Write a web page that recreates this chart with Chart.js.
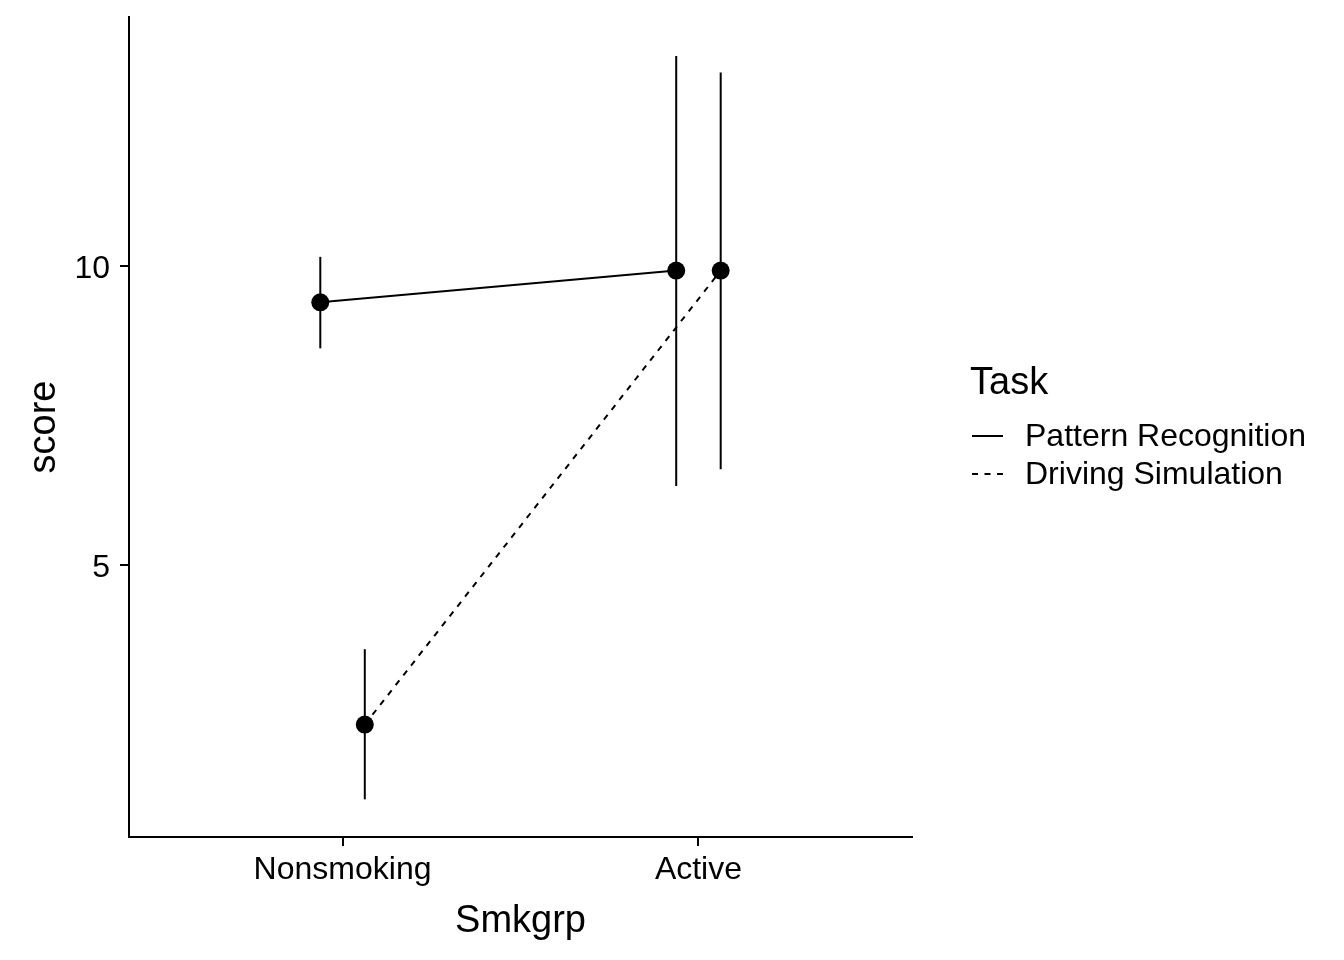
<!DOCTYPE html>
<html>
<head>
<meta charset="utf-8">
<script src="https://cdn.jsdelivr.net/npm/chart.js@4/dist/chart.umd.min.js"></script>
<style>
    body { margin: 0; background: #fff; }
    #wrap { position: relative; width: 1344px; height: 960px; font-family: 'Liberation Sans', Arial, sans-serif; color: #000; }
    canvas { position: absolute; left: 0; top: 0; }
    .lg { position: absolute; line-height: 1; white-space: nowrap; }
</style>
</head>
<body>
<div id="wrap">
    <canvas id="interactionChart" width="1344" height="960"></canvas>
    <div class="lg" style="left:970px; top:362px; font-size:38px;">Task</div>
    <svg class="lg" style="left:972px; top:430px;" width="32" height="50">
        <line x1="0" y1="6" x2="31" y2="6" stroke="#000" stroke-width="2"></line>
        <line x1="0" y1="44" x2="31" y2="44" stroke="#000" stroke-width="2" stroke-dasharray="6 6.5"></line>
    </svg>
    <div class="lg" style="left:1025px; top:419px; font-size:32px;">Pattern Recognition</div>
    <div class="lg" style="left:1025px; top:457px; font-size:32px;">Driving Simulation</div>
</div>
<script>
// Dữ liệu
const groups = ['Nonsmoking', 'Active'];
const tasks = ['Pattern Recognition', 'Driving Simulation'];
const yTicks = [5, 10];
const dodge = [-0.0625, 0.0625];

const patternMean = [9.39, 9.92];
const patternLow = [8.62, 6.32];
const patternHigh = [10.15, 13.51];

const drivingMean = [2.33, 9.92];
const drivingLow = [1.08, 6.60];
const drivingHigh = [3.59, 13.23];

const FONT = "'Liberation Sans', Arial, sans-serif";

function meanPoints(means, off) {
    return means.map((v, i) => ({ x: i + 1 + off, y: v }));
}

function errorBars(lows, highs, off) {
    return lows.map((lo, i) => ({
        data: [{ x: i + 1 + off, y: lo }, { x: i + 1 + off, y: highs[i] }],
        borderColor: '#000',
        borderWidth: 2,
        pointRadius: 0,
        fill: false
    }));
}

document.addEventListener('DOMContentLoaded', function () {
    const ctx = document.getElementById('interactionChart').getContext('2d');
    new Chart(ctx, {
        type: 'line',
        data: {
            datasets: [
                {
                    label: tasks[0],
                    data: meanPoints(patternMean, dodge[0]),
                    borderColor: '#000',
                    borderWidth: 2,
                    pointRadius: 9,
                    pointBorderWidth: 0,
                    pointBackgroundColor: '#000',
                    fill: false
                },
                {
                    label: tasks[1],
                    data: meanPoints(drivingMean, dodge[1]),
                    borderColor: '#000',
                    borderWidth: 2,
                    borderDash: [6, 6.5],
                    pointRadius: 9,
                    pointBorderWidth: 0,
                    pointBackgroundColor: '#000',
                    fill: false
                },
                ...errorBars(patternLow, patternHigh, dodge[0]),
                ...errorBars(drivingLow, drivingHigh, dodge[1])
            ]
        },
        options: {
            responsive: false,
            devicePixelRatio: 1,
            animation: false,
            layout: { padding: { left: 0, right: 432, top: 17, bottom: 0 } },
            plugins: {
                legend: { display: false },
                tooltip: { enabled: false }
            },
            scales: {
                x: {
                    type: 'linear',
                    min: 0.4,
                    max: 2.6,
                    afterBuildTicks: function (scale) {
                        scale.ticks = groups.map((g, i) => ({ value: i + 1 }));
                    },
                    afterFit: function (scale) {
                        scale.height = 123;
                        scale.paddingLeft = 0;
                        scale.paddingRight = 0;
                    },
                    ticks: {
                        callback: function (value) { return groups[value - 1]; },
                        font: { family: FONT, size: 32 },
                        color: '#000',
                        padding: 5,
                        maxRotation: 0
                    },
                    grid: { drawOnChartArea: false, tickLength: 9, color: '#000', lineWidth: 2 },
                    border: { display: true, color: '#000', width: 2 },
                    title: {
                        display: true,
                        text: 'Smkgrp',
                        font: { family: FONT, size: 38 },
                        color: '#000',
                        padding: { top: 0, bottom: 16 }
                    }
                },
                y: {
                    min: 0.45,
                    max: 14.16,
                    afterBuildTicks: function (scale) {
                        scale.ticks = yTicks.map(v => ({ value: v }));
                    },
                    afterFit: function (scale) {
                        scale.width = 129;
                        scale.paddingTop = 0;
                        scale.paddingBottom = 0;
                    },
                    ticks: {
                        font: { family: FONT, size: 32 },
                        color: '#000',
                        padding: 10,
                        labelOffset: 3
                    },
                    grid: { drawOnChartArea: false, tickLength: 9, color: '#000', lineWidth: 2 },
                    border: { display: true, color: '#000', width: 2 },
                    title: {
                        display: true,
                        text: 'score',
                        font: { family: FONT, size: 38 },
                        color: '#000',
                        padding: { top: 22, bottom: 0 }
                    }
                }
            }
        }
    });
});
</script>
</body>
</html>
